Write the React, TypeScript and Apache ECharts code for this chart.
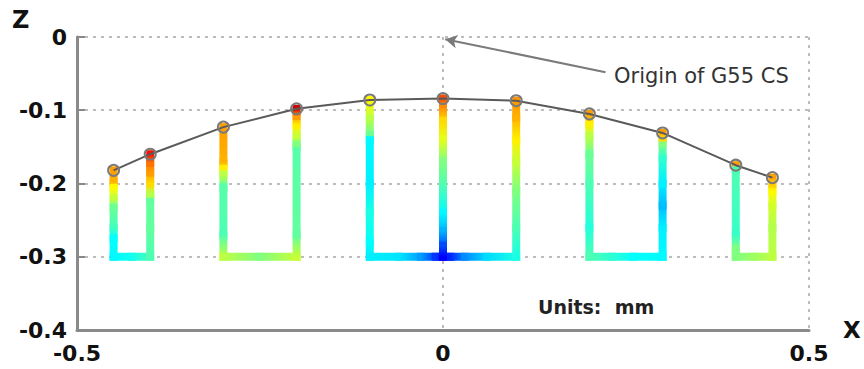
import React, { useEffect, useRef } from "react";
import * as echarts from "echarts";

// Probe stations along X and measured surface height Z (mm)
const probeX = [-0.45, -0.4, -0.3, -0.2, -0.1, 0, 0.1, 0.2, 0.3, 0.4, 0.45];
const probeZ = [-0.182, -0.16, -0.123, -0.098, -0.086, -0.084, -0.087, -0.105, -0.131, -0.175, -0.192];

// Tool paths: [x, z, colour level 0..1]
const pathA = [
  [-0.45, -0.182, 0.72], [-0.45, -0.198, 0.7], [-0.45, -0.206, 0.63], [-0.45, -0.22, 0.57],
  [-0.45, -0.233, 0.48], [-0.45, -0.26, 0.44], [-0.45, -0.275, 0.38], [-0.45, -0.3, 0.37],
  [-0.425, -0.3, 0.39], [-0.4, -0.3, 0.45],
  [-0.4, -0.26, 0.47], [-0.4, -0.22, 0.47], [-0.4, -0.214, 0.55], [-0.4, -0.2, 0.66],
  [-0.4, -0.185, 0.72], [-0.4, -0.172, 0.76], [-0.4, -0.16, 0.86],
];
const pathB = [
  [-0.3, -0.123, 0.72], [-0.3, -0.171, 0.7], [-0.3, -0.18, 0.64], [-0.3, -0.188, 0.56],
  [-0.3, -0.205, 0.46], [-0.3, -0.27, 0.45], [-0.3, -0.3, 0.56],
  [-0.25, -0.3, 0.5], [-0.2, -0.3, 0.57],
  [-0.2, -0.27, 0.47], [-0.2, -0.15, 0.46], [-0.2, -0.145, 0.5], [-0.2, -0.134, 0.57],
  [-0.2, -0.12, 0.64], [-0.2, -0.108, 0.72], [-0.2, -0.098, 0.92],
];
const pathC = [
  [-0.1, -0.086, 0.63], [-0.1, -0.111, 0.56], [-0.1, -0.134, 0.48], [-0.1, -0.141, 0.37],
  [-0.1, -0.2, 0.36], [-0.1, -0.24, 0.4], [-0.1, -0.28, 0.38], [-0.1, -0.3, 0.36],
  [-0.06, -0.3, 0.35], [-0.03, -0.3, 0.28], [-0.01, -0.3, 0.18], [0, -0.3, 0.12],
  [0.01, -0.3, 0.16], [0.03, -0.3, 0.26], [0.06, -0.3, 0.34], [0.1, -0.3, 0.4],
  [0.1, -0.26, 0.45], [0.1, -0.21, 0.5], [0.1, -0.17, 0.57], [0.1, -0.14, 0.64],
  [0.1, -0.11, 0.7], [0.1, -0.087, 0.73],
];
const pathCentre = [
  [0, -0.084, 0.8], [0, -0.095, 0.74], [0, -0.115, 0.66], [0, -0.14, 0.6], [0, -0.17, 0.5],
  [0, -0.21, 0.44], [0, -0.24, 0.37], [0, -0.265, 0.3], [0, -0.285, 0.2], [0, -0.3, 0.12],
];
const pathD = [
  [0.2, -0.105, 0.72], [0.2, -0.12, 0.64], [0.2, -0.135, 0.56], [0.2, -0.16, 0.48],
  [0.2, -0.2, 0.45], [0.2, -0.26, 0.41], [0.2, -0.3, 0.45],
  [0.23, -0.3, 0.42], [0.26, -0.3, 0.38], [0.3, -0.3, 0.37],
  [0.3, -0.26, 0.36], [0.3, -0.23, 0.31], [0.3, -0.2, 0.36], [0.3, -0.165, 0.42],
  [0.3, -0.145, 0.5], [0.3, -0.137, 0.66], [0.3, -0.131, 0.72],
];
const pathE = [
  [0.4, -0.175, 0.72], [0.4, -0.182, 0.45], [0.4, -0.27, 0.43], [0.4, -0.29, 0.5], [0.4, -0.3, 0.5],
  [0.425, -0.3, 0.53], [0.45, -0.3, 0.56],
  [0.45, -0.26, 0.55], [0.45, -0.23, 0.58], [0.45, -0.21, 0.63], [0.45, -0.2, 0.67], [0.45, -0.192, 0.72],
];
const toolPaths = [pathA, pathB, pathC, pathCentre, pathD, pathE];

const xTicks = { min: -0.5, max: 0.5, interval: 0.5 };
const zTicks = { min: -0.4, max: 0, interval: 0.1 };

// MATLAB-style jet colormap
function jet(v: number): string {
  const c = (t: number) => Math.round(255 * Math.max(0, Math.min(1, t)));
  return `rgb(${c(1.5 - Math.abs(4 * v - 3))},${c(1.5 - Math.abs(4 * v - 2))},${c(1.5 - Math.abs(4 * v - 1))})`;
}

export default function App() {
  const ref = useRef<HTMLDivElement>(null);

  useEffect(() => {
    if (!ref.current) return;
    const chart = echarts.init(ref.current, null, { renderer: "svg" });

    const segments: number[][] = [];
    toolPaths.forEach((p) => {
      for (let i = 0; i < p.length - 1; i++) {
        segments.push([p[i][0], p[i][1], p[i + 1][0], p[i + 1][1], p[i][2], p[i + 1][2]]);
      }
    });

    const tickFont = { fontFamily: "DejaVu Sans", fontWeight: "bold" as const, fontSize: 22, color: "#111" };
    const grid = { lineStyle: { color: "#bdbdbd", width: 2, type: [3, 5] as any } };

    chart.setOption({
      animation: false,
      backgroundColor: "#fff",
      grid: { left: 77, right: 55, top: 37, bottom: 39 },
      xAxis: {
        type: "value",
        ...xTicks,
        axisLine: { onZero: false, lineStyle: { color: "#8a8a8a", width: 3 } },
        axisTick: { show: false },
        axisLabel: { ...tickFont, margin: 12, formatter: (v: number) => String(v) },
        splitLine: { show: true, ...grid },
      },
      yAxis: {
        type: "value",
        ...zTicks,
        axisLine: { show: true, onZero: false, lineStyle: { color: "#8a8a8a", width: 3 } },
        axisTick: { show: true, inside: true, length: 8, lineStyle: { color: "#888", width: 2 } },
        axisLabel: { ...tickFont, margin: 10, formatter: (v: number) => String(v) },
        splitLine: { show: true, ...grid },
      },
      graphic: [
        { type: "text", left: 12, top: 8, style: { text: "Z", fontFamily: "DejaVu Sans", fontWeight: "bold", fontSize: 24, fill: "#111" } },
        { type: "text", left: 843, top: 318, style: { text: "X", fontFamily: "DejaVu Sans", fontWeight: "bold", fontSize: 23, fill: "#111" } },
        { type: "text", left: 614, top: 65, style: { text: "Origin of G55 CS", fontFamily: "DejaVu Sans", fontSize: 21, fill: "#333" } },
        { type: "text", left: 538, top: 297, style: { text: "Units:  mm", fontFamily: "DejaVu Sans", fontWeight: "bold", fontSize: 19, fill: "#222" } },
      ],
      series: [
        {
          type: "custom",
          z: 2,
          data: segments,
          encode: { x: [0, 2], y: [1, 3] },
          renderItem: (_params: any, api: any) => {
            const p1 = api.coord([api.value(0), api.value(1)]);
            const p2 = api.coord([api.value(2), api.value(3)]);
            return {
              type: "line",
              shape: { x1: p1[0], y1: p1[1], x2: p2[0], y2: p2[1] },
              style: {
                stroke: {
                  type: "linear",
                  x: p1[0], y: p1[1], x2: p2[0], y2: p2[1],
                  global: true,
                  colorStops: [
                    { offset: 0, color: jet(api.value(4)) },
                    { offset: 1, color: jet(api.value(5)) },
                  ],
                },
                lineWidth: 8,
                lineCap: "square",
              },
            };
          },
        },
        {
          type: "line",
          z: 3,
          data: probeX.map((x, i) => [x, probeZ[i]]),
          lineStyle: { color: "#5a5a5a", width: 2 },
          symbol: "circle",
          symbolSize: 11,
          itemStyle: { color: "rgba(0,0,0,0)", borderColor: "#7a7a7a", borderWidth: 2 },
          markLine: {
            silent: true,
            symbol: ["arrow", "none"],
            symbolSize: [10, 12],
            label: { show: false },
            lineStyle: { color: "#7a7a7a", width: 2, type: "solid" },
            data: [[{ coord: [0.003, -0.003] }, { coord: [0.222, -0.048] }]],
          },
        },
      ],
    });

    return () => chart.dispose();
  }, []);

  return (
    <div
      ref={ref}
      style={{ position: "fixed", left: 0, top: 0, width: 864, height: 369 }}
    />
  );
}
